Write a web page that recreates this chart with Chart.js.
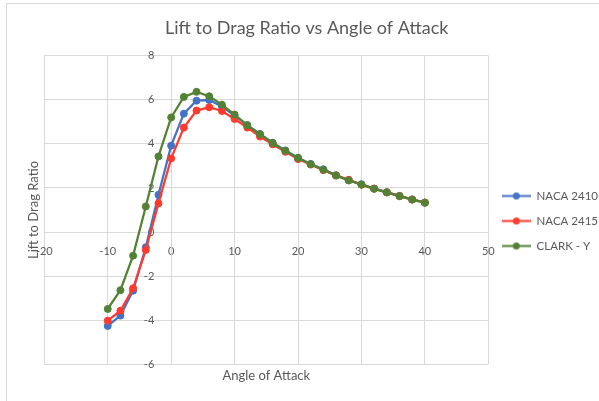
<!DOCTYPE html>
<html>
<head>
<meta charset="utf-8">
<script src="https://cdn.jsdelivr.net/npm/chart.js@4/dist/chart.umd.min.js"></script>
<style>
  html, body { margin: 0; padding: 0; background: #fff; }
  #wrap { width: 599px; height: 401px; }
</style>
</head>
<body>
<div id="wrap"><canvas id="chart" width="599" height="401"></canvas></div>
<script>
// angle of attack (deg)
const angles = [-10, -8, -6, -4, -2, 0, 2, 4, 6, 8, 10, 12, 14, 16, 18, 20, 22, 24, 26, 28, 30, 32, 34, 36, 38, 40];

// lift to drag ratio per airfoil
const naca2410 = [-4.26, -3.79, -2.66, -0.69, 1.69, 3.92, 5.37, 5.96, 5.99, 5.70, 5.28, 4.85, 4.45, 4.05, 3.70, 3.37, 3.09, 2.85, 2.58, 2.35, 2.17, 1.97, 1.81, 1.64, 1.48, 1.34];
const naca2415 = [-4.02, -3.57, -2.55, -0.81, 1.30, 3.34, 4.74, 5.51, 5.66, 5.49, 5.13, 4.74, 4.33, 3.98, 3.64, 3.31, 3.06, 2.81, 2.57, 2.37, 2.15, 1.97, 1.80, 1.63, 1.48, 1.33];
const clarkY   = [-3.49, -2.64, -1.07, 1.16, 3.43, 5.20, 6.13, 6.36, 6.16, 5.78, 5.33, 4.85, 4.44, 4.04, 3.69, 3.36, 3.08, 2.83, 2.56, 2.34, 2.15, 1.96, 1.80, 1.63, 1.47, 1.33];

const seriesNames = ['NACA 2410', 'NACA 2415', 'CLARK - Y'];
const seriesColors = ['#4472C4', '#FF3B30', '#548235'];
const seriesValues = [naca2410, naca2415, clarkY];

const xTicks = { min: -20, max: 50, step: 10 };
const yTicks = { min: -6, max: 8, step: 2 };

const textColor = '#595959';
const gridColor = '#d9d9d9';
const fontFamily = 'Lato, "Open Sans", sans-serif';

// little line + dot swatch for the legend, like excel
const legendSwatch = (color) => {
  const c = document.createElement('canvas');
  c.width = 29;
  c.height = 9;
  const g = c.getContext('2d');
  g.strokeStyle = color;
  g.lineWidth = 2;
  g.beginPath();
  g.moveTo(0, 4.5);
  g.lineTo(29, 4.5);
  g.stroke();
  g.fillStyle = color;
  g.beginPath();
  g.arc(14.5, 4.5, 3.5, 0, Math.PI * 2);
  g.fill();
  return c;
};

const chartBorder = {
  id: 'chartBorder',
  beforeDraw(chart) {
    const ctx = chart.ctx;
    ctx.save();
    ctx.fillStyle = '#fff';
    ctx.fillRect(0, 0, chart.width, chart.height);
    ctx.strokeStyle = gridColor;
    ctx.lineWidth = 1;
    ctx.strokeRect(6.5, 3.5, chart.width + 20, chart.height + 20);
    ctx.restore();
  }
};

const datasets = seriesNames.map((name, i) => ({
  label: name,
  data: angles.map((a, j) => ({ x: a, y: seriesValues[i][j] })),
  borderColor: seriesColors[i],
  backgroundColor: seriesColors[i],
  pointBackgroundColor: seriesColors[i],
  pointBorderColor: seriesColors[i],
  borderWidth: 2.25,
  pointRadius: 3.5,
  pointBorderWidth: 1,
  tension: 0,
  // last series drawn on top, as in the original
  order: seriesNames.length - i,
}));

const config = {
  type: 'line',
  data: { datasets },
  plugins: [chartBorder],
  options: {
    responsive: false,
    animation: false,
    devicePixelRatio: 1,
    layout: {
      padding: { top: 8, left: 14.4, right: 0, bottom: 0 },
    },
    plugins: {
      tooltip: { enabled: false },
      title: {
        display: true,
        text: 'Lift to Drag Ratio vs Angle of Attack',
        color: textColor,
        font: { family: fontFamily, size: 18, weight: 'normal' },
        padding: { top: 9.2, bottom: 16.9 },
      },
      legend: {
        position: 'right',
        fullSize: false,
        maxWidth: 110.7,
        title: {
          display: true,
          text: '',
          font: { size: 11 },
          padding: { top: 8.8, bottom: 0 },
        },
        labels: {
          usePointStyle: true,
          pointStyleWidth: 29,
          padding: 13.5,
          color: textColor,
          font: { family: fontFamily, size: 11.5 },
          sort: (a, b) => a.datasetIndex - b.datasetIndex,
          generateLabels: (chart) => {
            const items = Chart.defaults.plugins.legend.labels.generateLabels(chart);
            items.forEach((item) => {
              item.pointStyle = legendSwatch(seriesColors[item.datasetIndex]);
            });
            return items;
          },
        },
      },
    },
    scales: {
      x: {
        type: 'linear',
        position: { y: 0 },
        min: xTicks.min,
        max: xTicks.max,
        grid: { color: gridColor, drawTicks: false },
        border: { color: gridColor },
        ticks: {
          stepSize: xTicks.step,
          padding: 13,
          color: textColor,
          font: { family: fontFamily, size: 11 },
          maxRotation: 0,
        },
      },
      y: {
        type: 'linear',
        position: { x: 0 },
        min: yTicks.min,
        max: yTicks.max,
        grid: { color: gridColor, drawTicks: false },
        border: { color: gridColor },
        ticks: {
          stepSize: yTicks.step,
          color: textColor,
          font: { family: fontFamily, size: 11 },
          // centred axes ignore tick padding, so pad the label itself
          callback: (value) => value + '      ',
        },
      },
      // title-only axes so the titles sit at the plot edges
      xTitle: {
        axis: 'x',
        type: 'linear',
        position: 'bottom',
        display: true,
        min: 0,
        max: 1,
        grid: { display: false, drawTicks: false },
        border: { display: false },
        ticks: { display: false },
        title: {
          display: true,
          text: 'Angle of Attack',
          color: textColor,
          font: { family: fontFamily, size: 13 },
          padding: { top: 3.9, bottom: 17.2 },
        },
      },
      yTitle: {
        axis: 'y',
        type: 'linear',
        position: 'left',
        display: true,
        min: 0,
        max: 1,
        grid: { display: false, drawTicks: false },
        border: { display: false },
        ticks: { display: false },
        title: {
          display: true,
          text: 'Lift to Drag Ratio',
          color: textColor,
          font: { family: fontFamily, size: 13 },
          padding: { top: 11.8, bottom: 2.5 },
        },
      },
    },
  },
};

const chart = new Chart(document.getElementById('chart'), config);
</script>
</body>
</html>
